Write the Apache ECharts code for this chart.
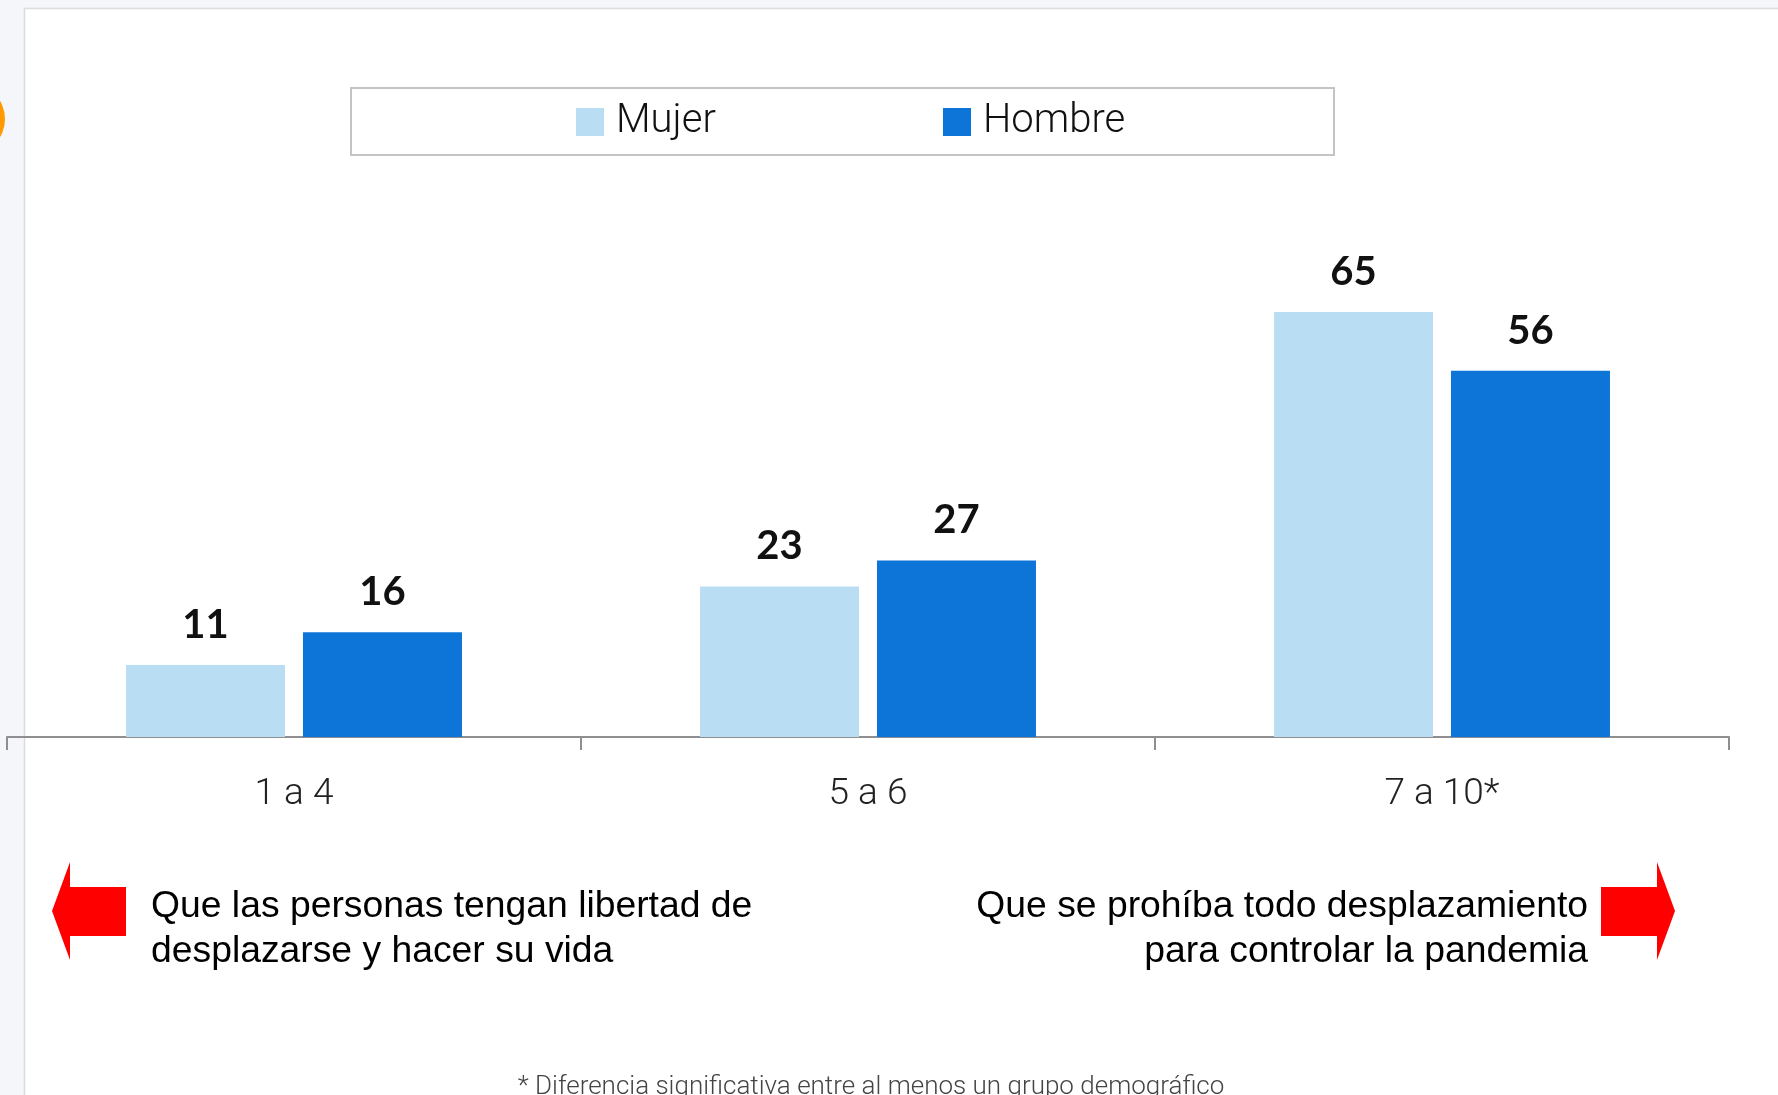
<!DOCTYPE html>
<html>
<head>
<meta charset="utf-8">
<script src="https://cdn.jsdelivr.net/npm/echarts@6/dist/echarts.min.js"></script>
<style>
html,body{margin:0;padding:0;background:#F5F6FA;}
#c{width:1778px;height:1095px;}
</style>
</head>
<body>
<div id="c"></div>
<script>
const categories = ['1 a 4', '5 a 6', '7 a 10*'];
const seriesNames = ['Mujer', 'Hombre'];
const mujer = [11, 23, 65];
const hombre = [16, 27, 56];
const leftNote = 'Que las personas tengan libertad de\ndesplazarse y hacer su vida';
const rightNote = 'Que se prohíba todo desplazamiento\npara controlar la pandemia';
const footnote = '* Diferencia significativa entre al menos un grupo demográfico';

const COLORS = ['#B9DEF4', '#0E75D8'];
const chart = echarts.init(document.getElementById('c'));
const labelStyle = {
  show: true, position: 'top', distance: 20,
  fontFamily: 'Lato, "Noto Sans", sans-serif', fontWeight: 'bold', fontSize: 40, color: '#111'
};
const legendText = {fontFamily: 'Roboto, sans-serif', fontWeight: 300, fontSize: 40, color: '#111', padding: [0,0,0,7]};
chart.setOption({
  backgroundColor: '#F5F6FA',
  animation: false,
  color: COLORS,
  grid: {left: 7, right: 49, top: 83, bottom: 358, containLabel: false},
  legend: [
    {data: [seriesNames[0]], left: 576, top: 102, itemWidth: 28, itemHeight: 28, icon: 'rect', textStyle: legendText, padding: 0},
    {data: [seriesNames[1]], left: 943, top: 102, itemWidth: 28, itemHeight: 28, icon: 'rect', textStyle: legendText, padding: 0}
  ],
  xAxis: {
    type: 'category', data: categories,
    axisLine: {lineStyle: {color: '#8f8f8f', width: 2}},
    axisTick: {show: true, length: 13, lineStyle: {color: '#8f8f8f', width: 2}},
    axisLabel: {margin: 39, fontFamily: 'Roboto, sans-serif', fontWeight: 300, fontSize: 37, color: '#222'}
  },
  yAxis: {type: 'value', min: 0, max: 100, show: false, splitLine: {show: false}},
  series: [
    {name: seriesNames[0], type: 'bar', data: mujer, barWidth: 159, barGap: '11.3%', label: labelStyle},
    {name: seriesNames[1], type: 'bar', data: hombre, barWidth: 159, barGap: '11.3%', label: labelStyle}
  ],
  graphic: [
    {type: 'rect', z: -100, shape: {x: 24.5, y: 8.5, width: 1800, height: 1200}, style: {fill: '#ffffff', stroke: '#dcdcdc', lineWidth: 1.5}},
    {type: 'circle', z: -90, shape: {cx: -31, cy: 119, r: 36}, style: {fill: '#FF9A00'}},
    {type: 'rect', z: -80, shape: {x: 351, y: 88, width: 983, height: 67}, style: {fill: 'none', stroke: '#c4c4c4', lineWidth: 2}},
    {type: 'polygon', shape: {points: [[52,911],[70,862],[70,887],[126,887],[126,936],[70,936],[70,960]]}, style: {fill: '#FF0000'}},
    {type: 'polygon', shape: {points: [[1675,911],[1657,862],[1657,887],[1601,887],[1601,936],[1657,936],[1657,960]]}, style: {fill: '#FF0000'}},
    {type: 'text', x: 151, y: 884, style: {text: leftNote, font: '37.3px "Liberation Sans", Arial, sans-serif', fill: '#000', lineHeight: 45, textAlign: 'left', textVerticalAlign: 'top'}},
    {type: 'text', x: 1588, y: 884, style: {text: rightNote, font: '37.3px "Liberation Sans", Arial, sans-serif', fill: '#000', lineHeight: 45, textAlign: 'right', textVerticalAlign: 'top'}},
    {type: 'text', x: 871, y: 1100, style: {text: footnote, font: '300 26px Roboto, sans-serif', fill: '#444', textAlign: 'center', textVerticalAlign: 'bottom'}}
  ]
});
</script>
</body>
</html>
